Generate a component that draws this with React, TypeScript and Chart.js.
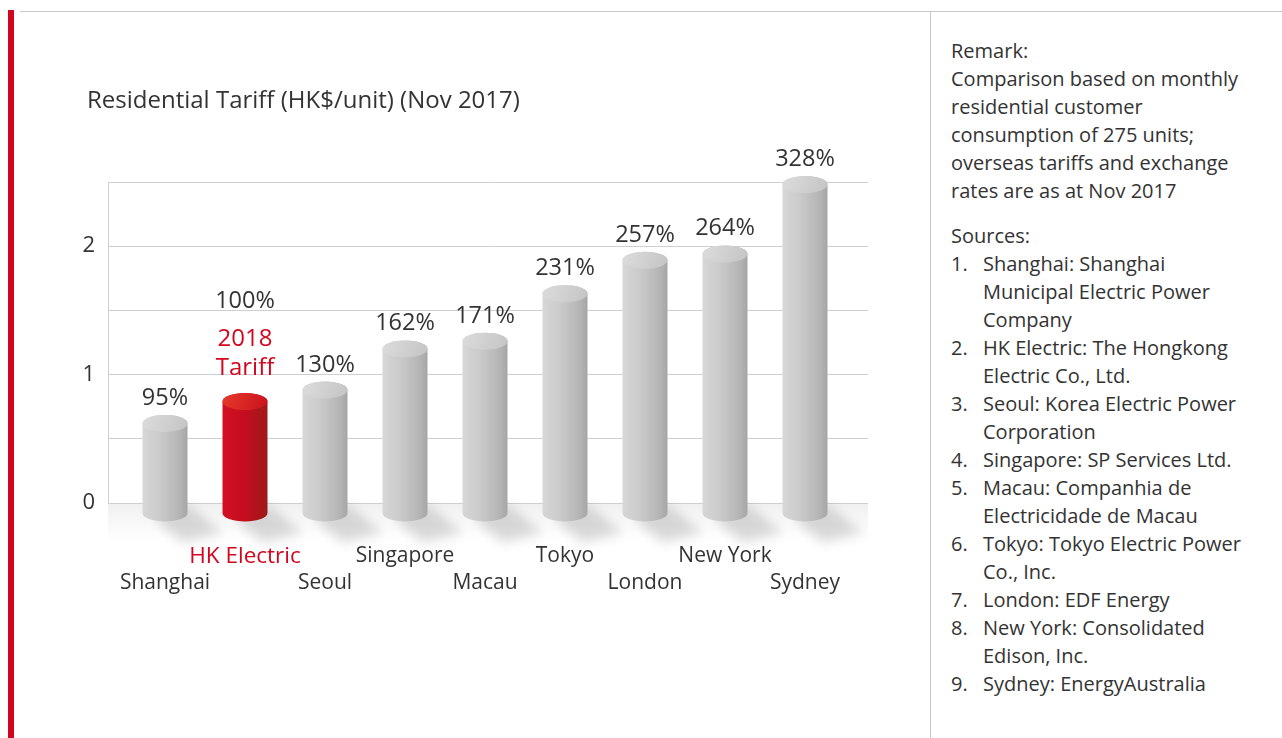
import React, { useEffect, useRef } from 'react';
import { Chart, registerables } from 'chart.js';

Chart.register(...registerables);

// ---------- data ----------
const categories = ['Shanghai', 'HK Electric', 'Seoul', 'Singapore', 'Macau', 'Tokyo', 'London', 'New York', 'Sydney'];
const tariffs = [0.62, 0.79, 0.88, 1.2, 1.26, 1.63, 1.89, 1.94, 2.48];
const percentLabels = ['95%', '100%', '130%', '162%', '171%', '231%', '257%', '264%', '328%'];
const highlightIndex = 1;
const highlightNote = ['2018', 'Tariff'];
const yMin = 0;
const yMax = 2.5;
const yStep = 0.5;
const chartTitle = 'Residential Tariff (HK$/unit) (Nov 2017)';
const remarkTitle = 'Remark:';
const remarkLines = [
  'Comparison based on monthly',
  'residential customer',
  'consumption of 275 units;',
  'overseas tariffs and exchange',
  'rates are as at Nov 2017',
];
const sourcesTitle = 'Sources:';
const sourceLines = [
  ['Shanghai: Shanghai', 'Municipal Electric Power', 'Company'],
  ['HK Electric: The Hongkong', 'Electric Co., Ltd.'],
  ['Seoul: Korea Electric Power', 'Corporation'],
  ['Singapore: SP Services Ltd.'],
  ['Macau: Companhia de', 'Electricidade de Macau'],
  ['Tokyo: Tokyo Electric Power', 'Co., Inc.'],
  ['London: EDF Energy'],
  ['New York: Consolidated', 'Edison, Inc.'],
  ['Sydney: EnergyAustralia'],
];

// ---------- styles ----------
const RED = '#d2071f';
const TEXT = '#333333';
const GRID = '#cfcfcf';
const FONT = '"Open Sans", "Noto Sans", sans-serif';

const cylinderPlugin = {
  id: 'cylinders',
  beforeDatasetsDraw(chart: any) {
    const ctx = chart.ctx as CanvasRenderingContext2D;
    const area = chart.chartArea;
    const base = chart.scales.y.getPixelForValue(0);
    const meta = chart.getDatasetMeta(0);
    ctx.save();
    const g = ctx.createLinearGradient(0, base, 0, base + 38);
    g.addColorStop(0, 'rgba(0,0,0,0.06)');
    g.addColorStop(1, 'rgba(0,0,0,0)');
    ctx.fillStyle = g;
    ctx.fillRect(area.left, base + 1, area.right - area.left, 38);
    meta.data.forEach((el: any) => {
      const x = el.x;
      const rx = el.width / 2;
      const by = base + 10;
      ctx.save();
      ctx.filter = 'blur(6px)';
      ctx.fillStyle = 'rgba(0,0,0,0.14)';
      ctx.beginPath();
      ctx.moveTo(x - rx * 0.5, by + 6);
      ctx.lineTo(x + rx, by - 8);
      ctx.lineTo(x + rx + 36, by + 20);
      ctx.lineTo(x + 18, by + 30);
      ctx.closePath();
      ctx.fill();
      ctx.restore();
    });
    ctx.restore();
  },
  afterDatasetsDraw(chart: any) {
    const ctx = chart.ctx as CanvasRenderingContext2D;
    const base = chart.scales.y.getPixelForValue(0);
    const meta = chart.getDatasetMeta(0);
    ctx.save();
    meta.data.forEach((el: any, i: number) => {
      const x = el.x;
      const top = el.y;
      const rx = el.width / 2;
      const ry = 8.5;
      const bottom = base + 10;
      const hl = i === highlightIndex;
      const body = ctx.createLinearGradient(x - rx, 0, x + rx, 0);
      if (hl) {
        body.addColorStop(0, '#d50f24');
        body.addColorStop(0.5, '#c40d1f');
        body.addColorStop(1, '#9e1a17');
      } else {
        body.addColorStop(0, '#d7d7d7');
        body.addColorStop(0.4, '#cacaca');
        body.addColorStop(0.85, '#b3b3b3');
        body.addColorStop(1, '#a5a5a5');
      }
      ctx.fillStyle = body;
      ctx.beginPath();
      ctx.moveTo(x - rx, top);
      ctx.lineTo(x - rx, bottom);
      ctx.ellipse(x, bottom, rx, ry, 0, Math.PI, 0, true);
      ctx.lineTo(x + rx, top);
      ctx.ellipse(x, top, rx, ry, 0, 0, Math.PI, true);
      ctx.closePath();
      ctx.fill();
      const cap = ctx.createLinearGradient(x - rx, top - ry, x + rx, top + ry);
      if (hl) {
        cap.addColorStop(0, '#e8392c');
        cap.addColorStop(1, '#c8121d');
      } else {
        cap.addColorStop(0, '#dcdcdc');
        cap.addColorStop(1, '#c4c4c4');
      }
      ctx.fillStyle = cap;
      ctx.beginPath();
      ctx.ellipse(x, top, rx, ry, 0, 0, Math.PI * 2);
      ctx.fill();

      ctx.textAlign = 'center';
      ctx.textBaseline = 'alphabetic';
      const capTop = top - ry;
      if (hl) {
        ctx.fillStyle = RED;
        ctx.font = `24px ${FONT}`;
        ctx.fillText(highlightNote[1], x, capTop - 18);
        ctx.fillText(highlightNote[0], x, capTop - 47);
        ctx.fillStyle = TEXT;
        ctx.font = `23.5px ${FONT}`;
        ctx.fillText(percentLabels[i], x, capTop - 85);
      } else {
        ctx.fillStyle = TEXT;
        ctx.font = `23.5px ${FONT}`;
        ctx.fillText(percentLabels[i], x, capTop - 10);
      }
    });
    ctx.restore();
  },
};

function TariffChart() {
  const ref = useRef<HTMLCanvasElement | null>(null);
  useEffect(() => {
    if (!ref.current) return;
    const chart = new Chart(ref.current, {
      type: 'bar',
      data: {
        datasets: [
          {
            data: categories.map((_, i) => ({ x: i, y: tariffs[i] })),
            backgroundColor: 'rgba(0,0,0,0)',
            borderWidth: 0,
            barPercentage: 0.5625,
            categoryPercentage: 1,
          },
        ],
      },
      options: {
        animation: false,
        responsive: false,
        devicePixelRatio: 1,
        layout: { padding: { top: 182, right: 62, left: 0, bottom: 0 } },
        plugins: { legend: { display: false }, tooltip: { enabled: false }, title: { display: false } },
        scales: {
          x: {
            type: 'linear',
            offset: false,
            min: -0.7125,
            max: categories.length - 1 + 0.7875,
            grid: { display: false, drawTicks: false },
            border: { display: false },
            afterBuildTicks: (scale: any) => {
              scale.ticks = categories.map((_, i) => ({ value: i }));
            },
            afterFit: (scale: any) => {
              scale.height = 235;
            },
            ticks: {
              autoSkip: false,
              maxRotation: 0,
              minRotation: 0,
              padding: 40,
              font: (c: any) => {
                const size = c.index === highlightIndex ? 22.5 : 21;
                return { family: FONT, size, lineHeight: 27 / size };
              },
              color: (c: any) => (c.index === highlightIndex ? RED : TEXT),
              callback: (v: any) => {
                const i = Math.round(Number(v));
                const name = categories[i] ?? '';
                return i % 2 === 1 ? [name, ''] : ['', name];
              },
            },
          },
          y: {
            min: yMin,
            max: yMax,
            grid: { color: GRID, lineWidth: 1, drawTicks: false },
            border: { display: true, color: GRID, width: 1 },
            afterFit: (scale: any) => {
              scale.width = 108;
            },
            ticks: {
              stepSize: yStep,
              padding: 13,
              color: TEXT,
              font: { family: FONT, size: 22 },
              callback: (v: any) => (Number.isInteger(Number(v)) ? String(v) : ''),
            },
          },
        },
      },
      plugins: [cylinderPlugin],
    } as any);
    return () => chart.destroy();
  }, []);
  return (
    <canvas
      ref={ref}
      width={930}
      height={738}
      style={{ position: 'absolute', left: 0, top: 0, width: 930, height: 738 }}
    />
  );
}

export default function App() {
  const line = { height: 28, lineHeight: '28px', whiteSpace: 'nowrap' as const };
  return (
    <div
      style={{
        position: 'fixed',
        left: 0,
        top: 0,
        width: 1282,
        height: 738,
        overflow: 'hidden',
        background: '#fff',
        fontFamily: FONT,
        color: TEXT,
      }}
    >
      <div style={{ position: 'absolute', left: 8, top: 10, width: 6, height: 728, background: RED }} />
      <div style={{ position: 'absolute', left: 20, top: 11, right: 0, height: 1, background: '#c8c8c8' }} />
      <div style={{ position: 'absolute', left: 930, top: 11, width: 1, bottom: 0, background: '#c8c8c8' }} />
      <TariffChart />
      <div
        style={{
          position: 'absolute',
          left: 87,
          top: 84,
          fontSize: 24,
          lineHeight: '30px',
          whiteSpace: 'nowrap',
        }}
      >
        {chartTitle}
      </div>
      <div style={{ position: 'absolute', left: 951, top: 37, fontSize: 20 }}>
        <div style={line}>{remarkTitle}</div>
        {remarkLines.map((t, i) => (
          <div key={i} style={line}>
            {t}
          </div>
        ))}
        <div style={{ ...line, marginTop: 17 }}>{sourcesTitle}</div>
        {sourceLines.map((lines, i) => (
          <div key={i} style={{ display: 'flex' }}>
            <div style={{ width: 32, ...line }}>{i + 1}.</div>
            <div>
              {lines.map((t, j) => (
                <div key={j} style={line}>
                  {t}
                </div>
              ))}
            </div>
          </div>
        ))}
      </div>
    </div>
  );
}
